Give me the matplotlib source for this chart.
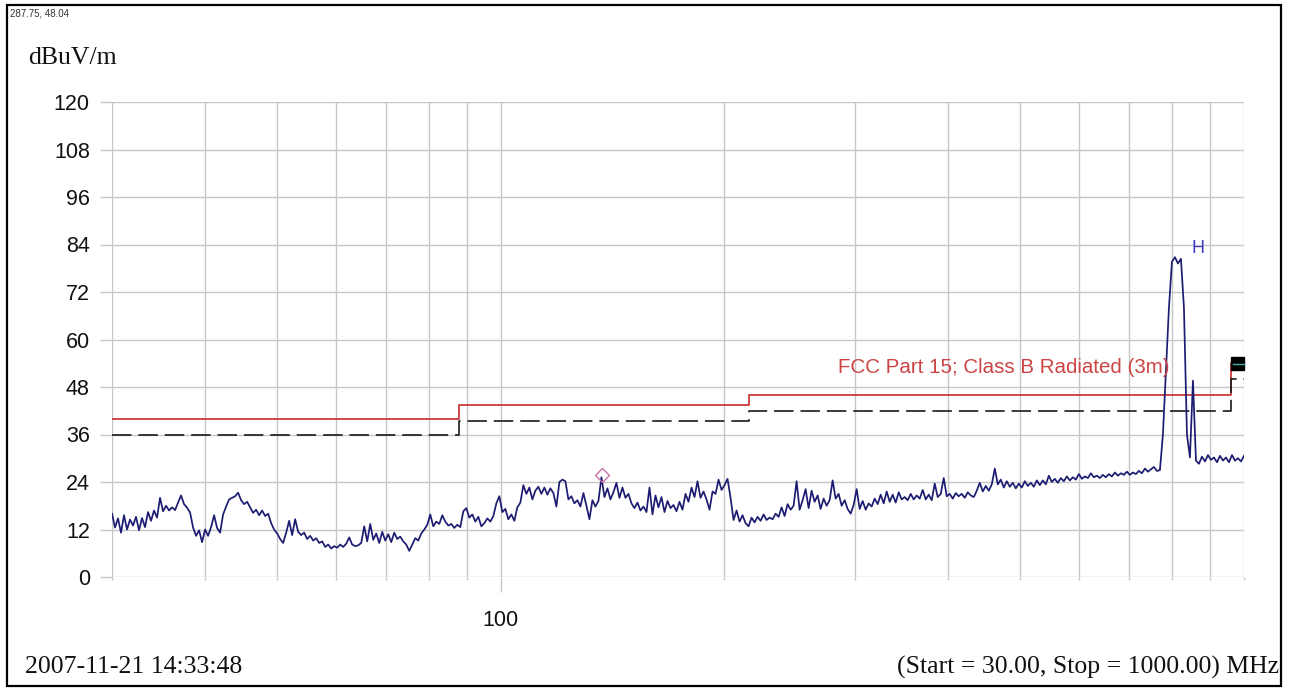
import numpy as np
import matplotlib
matplotlib.use("Agg")
import matplotlib.pyplot as plt
from matplotlib.patches import Rectangle

# ---------------- data ----------------
start_mhz, stop_mhz = 30.0, 1000.0

# measured level (dBuV/m) of the sweep, 378 points on a log-frequency grid
level_dbuv = [
    16.0, 12.5, 14.8, 11.2, 15.6, 12.0, 14.5, 13.0, 15.2, 11.8,
    14.9, 12.6, 16.4, 14.2, 16.8, 15.0, 20.0, 16.6, 18.0, 16.8,
    17.6, 16.9, 18.8, 20.6, 18.4, 17.5, 16.3, 12.5, 10.4, 11.8,
    8.8, 12.0, 10.4, 12.6, 15.6, 12.4, 11.2, 15.8, 17.8, 19.6,
    20.0, 20.4, 21.3, 19.4, 18.4, 19.0, 17.6, 16.2, 17.0, 15.6,
    16.8, 15.4, 16.0, 13.6, 12.0, 11.0, 9.6, 8.6, 11.2, 14.2,
    10.6, 14.6, 11.4, 10.6, 11.2, 9.6, 10.4, 9.2, 9.8, 8.6,
    9.0, 7.6, 8.2, 7.2, 7.8, 7.4, 8.2, 7.6, 8.4, 10.0,
    8.2, 7.8, 8.0, 8.6, 12.8, 9.0, 13.4, 9.4, 11.0, 8.6,
    11.4, 9.2, 10.8, 8.8, 11.2, 9.6, 10.2, 9.0, 8.2, 6.6,
    8.2, 9.8, 9.2, 11.0, 12.0, 13.2, 15.8, 12.8, 14.0, 13.4,
    15.6, 14.0, 13.0, 13.4, 12.4, 13.2, 12.6, 16.6, 17.4, 15.0,
    15.8, 14.0, 15.2, 12.8, 13.6, 14.8, 14.0, 15.4, 18.6, 20.4,
    16.4, 17.2, 14.6, 15.8, 14.2, 17.6, 18.8, 23.2, 21.0, 22.6,
    19.6, 21.8, 22.8, 21.0, 22.6, 20.8, 22.4, 21.2, 17.8, 24.0,
    24.6, 24.2, 19.6, 20.4, 18.6, 19.4, 17.8, 21.2, 18.0, 14.6,
    19.4, 17.8, 19.2, 25.2, 20.2, 22.4, 19.6, 21.4, 23.8, 20.0,
    22.6, 20.0, 21.0, 18.6, 17.4, 18.8, 16.8, 17.8, 16.4, 22.6,
    15.8, 20.6, 17.6, 20.2, 16.4, 19.2, 17.4, 18.2, 16.6, 19.0,
    17.0, 21.0, 19.0, 22.6, 20.2, 24.2, 20.0, 21.6, 19.6, 17.0,
    21.6, 21.0, 24.6, 22.0, 23.2, 24.8, 20.0, 14.4, 16.8, 14.0,
    15.6, 13.6, 12.8, 15.0, 13.8, 15.2, 14.2, 15.8, 14.4, 15.0,
    14.6, 16.0, 15.2, 17.6, 15.4, 18.4, 17.0, 18.0, 24.2, 17.0,
    19.4, 22.2, 17.4, 21.8, 19.0, 20.6, 17.2, 19.8, 18.0, 19.4,
    24.4, 19.8, 21.0, 18.0, 19.4, 17.2, 16.0, 18.2, 22.2, 17.2,
    19.2, 17.0, 18.6, 17.8, 19.8, 18.4, 20.8, 18.6, 21.6, 19.0,
    20.8, 18.8, 21.4, 19.6, 20.2, 19.4, 21.0, 19.6, 20.6, 19.8,
    22.0, 19.6, 20.8, 19.4, 23.6, 20.2, 21.0, 25.0, 20.4, 21.0,
    19.8, 21.2, 20.4, 21.0, 20.0, 21.4, 20.6, 20.2, 21.8, 23.8,
    21.6, 23.0, 21.8, 23.4, 27.4, 23.4, 24.6, 22.6, 24.2, 22.8,
    23.8, 22.4, 23.6, 22.6, 24.2, 23.0, 23.8, 22.8, 24.4, 23.2,
    24.4, 23.4, 25.6, 24.0, 24.8, 23.8, 25.0, 24.2, 25.4, 24.4,
    25.2, 24.6, 26.0, 24.8, 25.4, 25.0, 26.2, 25.2, 25.6, 25.0,
    25.8, 25.2, 26.0, 25.4, 26.4, 25.6, 26.2, 25.8, 26.6, 25.8,
    26.4, 26.0, 26.8, 26.2, 27.4, 26.6, 27.2, 27.8, 26.8, 27.0,
    36.0, 52.0, 68.0, 79.6, 80.8, 79.2, 80.4, 68.0, 36.0, 30.2,
    49.6, 29.4, 28.6, 30.4, 29.2, 30.8, 29.6, 30.2, 29.0, 30.6,
    29.4, 30.2, 29.0, 30.8, 29.4, 30.0, 29.2, 30.6,
]

# FCC Part 15 Class B (3 m) limit and margin line
limit_freq_mhz = [30, 88, 216, 960, 1000]
limit_dbuv = [40.0, 43.5, 46.0, 54.0, 54.0]
margin_dbuv = [36.0, 39.5, 42.0, 50.0, 50.0]

marker_freq_mhz = [137.0]
marker_dbuv = [25.8]

y_ticks = [0, 12, 24, 36, 48, 60, 72, 84, 96, 108, 120]
x_major = [100]
x_minor = [30, 40, 50, 60, 70, 80, 90, 200, 300, 400, 500, 600, 700, 800, 900, 1000]

# ---------------- figure ----------------
plt.rcParams["lines.scale_dashes"] = False
W, H, DPI = 1290, 689, 100
fig = plt.figure(figsize=(W / DPI, H / DPI), dpi=DPI, facecolor="white")
ax = fig.add_axes([112 / W, 1 - 577 / H, 1132 / W, 475 / H])

freq = np.geomspace(start_mhz, stop_mhz, len(level_dbuv))

grid_c = "#c6c6c6"
ax.set_xscale("log")
ax.set_xlim(start_mhz, stop_mhz)
ax.set_ylim(0, 120)
ax.set_xticks(x_major)
ax.set_xticklabels([str(v) for v in x_major])
ax.set_xticks(x_minor, minor=True)
ax.set_xticklabels([], minor=True)
ax.set_yticks(y_ticks)
ax.set_yticklabels([str(v) for v in y_ticks])
ax.grid(True, which="both", color=grid_c, linewidth=1.0)
ax.set_axisbelow(True)
for s in ax.spines.values():
    s.set_visible(False)

sans = ["Liberation Sans", "DejaVu Sans"]
serif = ["Liberation Serif", "DejaVu Serif"]
ax.tick_params(axis="y", which="major", length=9, color=grid_c, width=1.0, pad=7,
               labelsize=15.5, labelcolor="#111111")
ax.tick_params(axis="x", which="major", length=11, color=grid_c, width=1.0, pad=13,
               labelsize=15.5, labelcolor="#111111")
ax.tick_params(axis="x", which="minor", length=2, color=grid_c, width=1.0)
for lab in ax.get_xticklabels() + ax.get_yticklabels():
    lab.set_family(sans)

# limit lines
ax.plot(limit_freq_mhz, limit_dbuv, drawstyle="steps-post", color="#c83a3a",
        linewidth=1.3, zorder=3)
ax.plot(limit_freq_mhz, margin_dbuv, drawstyle="steps-post", color="#1a1a1a",
        linewidth=1.2, dashes=(14, 5), zorder=3)

# trace
ax.plot(freq, level_dbuv, color="#1c1c72", linewidth=1.25, zorder=4)

# marker
ax.plot(marker_freq_mhz, marker_dbuv, marker="D", markersize=7, markerfacecolor="none",
        markeredgecolor="#c872a8", markeredgewidth=1.0, linestyle="none", zorder=5)

# limit label & trace label
ax.text(284, 53.0, "FCC Part 15; Class B Radiated (3m)", color="#cc4444",
        fontsize=14.8, family=sans, va="center", ha="left", zorder=6)
ax.text(851, 83.0, "H", color="#3c3cc0", fontsize=13, family=sans,
        va="center", ha="left", zorder=6)

# end-of-limit box
ax.add_patch(Rectangle((962, 52.3), 38, 3.2, facecolor="black", edgecolor="black", zorder=6,
                       clip_on=False))
ax.plot([966, 1000], [53.8, 53.8], color="#3ab0a0", linewidth=1.0, zorder=7, clip_on=False)

# figure texts
fig.text(10 / W, 1 - 14 / H, "287.75, 48.04", fontsize=7, family=sans, color="#333333",
         va="center", ha="left")
fig.text(28 / W, 1 - 58 / H, "dBuV/m", fontsize=18.5, family=serif, color="#111111",
         va="center", ha="left")
fig.text(25 / W, 1 - 667 / H, "2007-11-21 14:33:48", fontsize=18.5, family=serif,
         color="#111111", va="center", ha="left")
fig.text(1279 / W, 1 - 667 / H, "(Start = 30.00, Stop = 1000.00) MHz", fontsize=18.5,
         family=serif, color="#111111", va="center", ha="right")

# outer frame
fig.patches.append(Rectangle((7 / W, 1 - 686 / H), (1281 - 7) / W, (686 - 5) / H,
                             transform=fig.transFigure, fill=False, edgecolor="black",
                             linewidth=1.6))

fig.savefig("out.png", dpi=DPI, facecolor="white")
